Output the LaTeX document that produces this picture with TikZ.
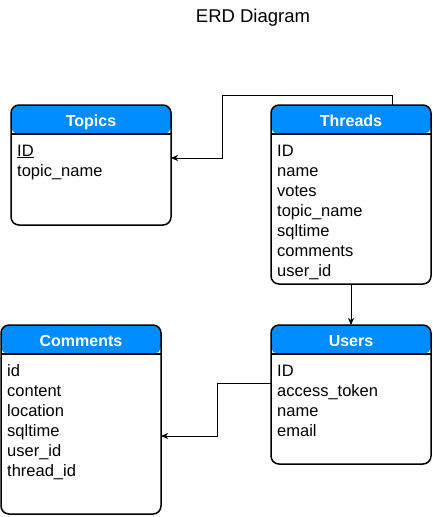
\documentclass[tikz,border=0pt]{standalone}
\usepackage{fontspec}
\setmainfont{Liberation Sans}
\usetikzlibrary{calc,arrows.meta}
\definecolor{hdrblue}{RGB}{0,140,255}
\tikzset{
  table/.style={
    draw,
    fill=white,
    line width=1.5pt,
    rounded corners=8pt,
    inner sep=0pt,
    outer sep=0pt,
    anchor=north west,
    minimum width=160pt,
    path picture={
      \fill[hdrblue] (path picture bounding box.north west) rectangle ([yshift=-29pt]path picture bounding box.north east);
      \draw[line width=1.5pt] ([yshift=-29pt]path picture bounding box.north west) -- ([yshift=-29pt]path picture bounding box.north east);
    }
  },
  hdrtext/.style={
    anchor=base,
    inner sep=0pt,
    text=white,
    font=\fontsize{16}{19}\selectfont\bfseries
  },
  field/.style={
    anchor=base west,
    inner sep=0pt,
    font=\fontsize{16.5}{20}\selectfont
  },
  link/.style={
    draw,
    line width=0.9pt,
    -{Stealth[length=7pt,width=6pt,inset=2pt]}
  }
}
\begin{document}
\begin{tikzpicture}[x=1pt,y=-1pt]
    \useasboundingbox (0,0) rectangle (433,517);
    \node[anchor=base,inner sep=0pt,font=\fontsize{18.5}{22}\selectfont] (title) at (253,22) {ERD Diagram};

    % tables
    \node[table, minimum height=120pt] (topics) at (11,105) {};
    \node[table, minimum height=179pt] (threads) at (271,105) {};
    \node[table, minimum height=189pt] (comments) at (1,325) {};
    \node[table, minimum height=139pt] (users) at (271,325) {};

    \node[hdrtext] (topics-h) at ($(topics.north)+(0,21)$) {Topics};
    \node[hdrtext] (threads-h) at ($(threads.north)+(0,21)$) {Threads};
    \node[hdrtext] (comments-h) at ($(comments.north)+(0,21)$) {Comments};
    \node[hdrtext] (users-h) at ($(users.north)+(0,21)$) {Users};

    \foreach \f [count=\i from 0] in {\underline{ID},topic\_name}{
        \node[field] (topics-\i) at ($(topics.north west)+(6,51+20*\i)$) {\f};
    }
    \foreach \f [count=\i from 0] in {ID,name,votes,topic\_name,sqltime,comments,user\_id}{
        \node[field] (threads-\i) at ($(threads.north west)+(6,51+20*\i)$) {\f};
    }
    \foreach \f [count=\i from 0] in {id,content,location,sqltime,user\_id,thread\_id}{
        \node[field] (comments-\i) at ($(comments.north west)+(6,51+20*\i)$) {\f};
    }
    \foreach \f [count=\i from 0] in {ID,access\_token,name,email}{
        \node[field] (users-\i) at ($(users.north west)+(6,51+20*\i)$) {\f};
    }

    % relations
    \coordinate (tt) at ([xshift=41pt]threads.north);
    \coordinate (uc) at ([yshift=11.5pt]users.west);
    \draw[link] (tt) -- ++(0,-10) -| (222,158) -- (topics.east |- 222,158);
    \draw[link] (threads.south) -- (users.north);
    \draw[link] (uc) -- ++(-54,0) |- (comments.east |- 217,436);
\end{tikzpicture}
\end{document}
